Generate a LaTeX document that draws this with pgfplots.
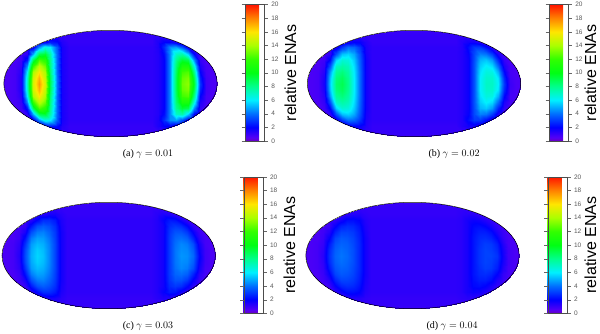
\documentclass[border=0pt]{standalone}
\usepackage{fontspec}
\setmainfont{Liberation Serif}
\newfontfamily\hv{Liberation Sans}
\usepackage{pgfplots}
\usepackage{pgfplotstable}
\pgfplotsset{compat=1.18}

\pgfplotsset{
  colormap={ena}{
    rgb255(0cm)=(105,0,190); rgb255(0.5cm)=(85,0,245); rgb255(2cm)=(0,0,255); rgb255(4cm)=(0,110,255);
    rgb255(6cm)=(0,240,255); rgb255(8cm)=(0,255,140); rgb255(10cm)=(0,255,20);
    rgb255(12cm)=(50,255,0); rgb255(14cm)=(170,255,0); rgb255(16cm)=(255,230,0);
    rgb255(18cm)=(255,130,0); rgb255(20cm)=(255,20,0)
  },
}

% relative ENA values, one line per row of the map (y = -54 ... 54 in steps of 6),
% columns x = -108 ... -42 and 42 ... 108; the middle of the map is flat
\pgfplotstableread[row sep=\\,header=false]{
0.7\\0.7\\0.7\\0.7\\0.7\\0.7\\0.7\\0.8\\0.9\\1\\1\\1\\1\\1\\0.9\\0.8\\0.7\\0.7\\0.7\\0.7\\0.7\\0.7\\0.7\\0.7\\
0.7\\0.7\\0.7\\0.7\\0.7\\0.7\\0.8\\0.9\\1\\1.1\\1.1\\1.1\\1.1\\1.1\\1\\0.9\\0.8\\0.7\\0.7\\0.7\\0.7\\0.7\\0.7\\0.7\\
0.7\\0.7\\0.7\\0.7\\0.7\\0.9\\1.2\\1.8\\2.5\\2.2\\1.4\\1.1\\1.1\\1.5\\2\\2\\1.5\\1\\0.8\\0.7\\0.7\\0.7\\0.7\\0.7\\
0.7\\0.7\\0.7\\0.7\\0.9\\1.6\\4.5\\6.5\\6\\3.6\\1.6\\1.2\\1.2\\1.5\\2.8\\4.5\\4.8\\3.5\\1.6\\0.9\\0.7\\0.7\\0.7\\0.7\\
0.7\\0.7\\0.7\\0.8\\1.2\\5\\9\\9.5\\7.5\\3.8\\1.6\\1.2\\1.2\\1.4\\2.2\\4.5\\7\\7.5\\5.5\\2\\0.9\\0.7\\0.7\\0.7\\
0.7\\0.7\\0.7\\0.9\\2.5\\9\\12.5\\11.5\\8\\3.8\\1.6\\1.2\\1.2\\1.4\\2\\4.5\\8\\9.5\\9\\4.5\\1.1\\0.7\\0.7\\0.7\\
0.7\\0.7\\0.8\\1.1\\4.5\\12\\14.5\\13\\8.2\\3.8\\1.6\\1.2\\1.2\\1.4\\2\\4.5\\8.5\\11\\11\\6.5\\1.5\\0.8\\0.7\\0.7\\
0.7\\0.7\\0.8\\1.3\\6\\14\\16\\14\\8.5\\3.8\\1.6\\1.2\\1.2\\1.4\\2\\4.5\\8.8\\12.2\\12.5\\8\\2\\0.8\\0.7\\0.7\\
0.7\\0.7\\0.8\\1.5\\6.8\\14.8\\17\\14.5\\9\\4\\1.6\\1.2\\1.2\\1.4\\2\\4.5\\9\\12.8\\13.2\\9\\2.6\\0.9\\0.7\\0.7\\
0.7\\0.7\\0.8\\1.5\\7\\15\\17.5\\15\\9\\4\\1.6\\1.2\\1.2\\1.4\\2\\4.5\\9\\13\\13.5\\9.5\\3\\0.9\\0.7\\0.7\\
0.7\\0.7\\0.8\\1.5\\6.8\\14.8\\17\\14.5\\9\\4\\1.6\\1.2\\1.2\\1.4\\2\\4.5\\9\\12.8\\13.2\\9\\2.6\\0.9\\0.7\\0.7\\
0.7\\0.7\\0.8\\1.3\\6\\14\\16\\14\\8.5\\3.8\\1.6\\1.2\\1.2\\1.4\\2\\4.5\\8.8\\12.2\\12.5\\8\\2\\0.8\\0.7\\0.7\\
0.7\\0.7\\0.8\\1.1\\4.5\\12\\14.5\\13\\8.2\\3.8\\1.6\\1.2\\1.2\\1.4\\2\\4.5\\8.5\\11\\11\\6.5\\1.5\\0.8\\0.7\\0.7\\
0.7\\0.7\\0.7\\0.9\\2.5\\9\\12.5\\11.5\\8\\3.8\\1.6\\1.2\\1.2\\1.4\\2\\4.5\\8\\9.5\\9\\4.5\\1.1\\0.7\\0.7\\0.7\\
0.7\\0.7\\0.7\\0.8\\1.2\\5\\9\\9.5\\7.5\\3.8\\1.6\\1.2\\1.2\\1.4\\2.2\\4.5\\7\\7.5\\5.5\\2\\0.9\\0.7\\0.7\\0.7\\
0.7\\0.7\\0.7\\0.7\\0.9\\1.6\\4.5\\6.5\\6\\3.6\\1.6\\1.2\\1.2\\1.5\\2.8\\4.5\\4.8\\3.5\\1.6\\0.9\\0.7\\0.7\\0.7\\0.7\\
0.7\\0.7\\0.7\\0.7\\0.7\\0.9\\1.2\\1.8\\2.5\\2.2\\1.4\\1.1\\1.1\\1.5\\2\\2\\1.5\\1\\0.8\\0.7\\0.7\\0.7\\0.7\\0.7\\
0.7\\0.7\\0.7\\0.7\\0.7\\0.7\\0.8\\0.9\\1\\1.1\\1.1\\1.1\\1.1\\1.1\\1\\0.9\\0.8\\0.7\\0.7\\0.7\\0.7\\0.7\\0.7\\0.7\\
0.7\\0.7\\0.7\\0.7\\0.7\\0.7\\0.7\\0.8\\0.9\\1\\1\\1\\1\\1\\0.9\\0.8\\0.7\\0.7\\0.7\\0.7\\0.7\\0.7\\0.7\\0.7\\
}\mapa

\pgfplotstableread[row sep=\\,header=false]{
0.7\\0.7\\0.7\\0.7\\0.7\\0.7\\0.7\\0.8\\0.9\\1\\1\\1\\1\\1\\0.9\\0.8\\0.7\\0.7\\0.7\\0.7\\0.7\\0.7\\0.7\\0.7\\
0.7\\0.7\\0.7\\0.7\\0.7\\0.7\\0.8\\0.9\\1\\1.1\\1.1\\1.1\\1.1\\1.1\\1\\0.9\\0.8\\0.7\\0.7\\0.7\\0.7\\0.7\\0.7\\0.7\\
0.7\\0.7\\0.7\\0.7\\0.7\\0.9\\1.2\\1.6\\2\\1.9\\1.4\\1.1\\1.1\\1.4\\1.7\\1.7\\1.3\\1\\0.8\\0.7\\0.7\\0.7\\0.7\\0.7\\
0.7\\0.7\\0.7\\0.7\\0.9\\1.5\\3\\4\\3.8\\2.9\\1.5\\1.2\\1.2\\1.4\\2.2\\3\\3\\2.2\\1.2\\0.9\\0.7\\0.7\\0.7\\0.7\\
0.7\\0.7\\0.7\\0.8\\1.2\\3.5\\5.3\\5.6\\4.9\\3.4\\1.6\\1.2\\1.2\\1.4\\1.9\\3.3\\4.3\\4.1\\3.1\\1.5\\0.9\\0.7\\0.7\\0.7\\
0.7\\0.7\\0.7\\0.9\\2.2\\5.6\\6.8\\6.6\\5.4\\3.6\\1.7\\1.2\\1.2\\1.4\\1.8\\3.4\\5.1\\5.4\\4.7\\2.7\\1.1\\0.7\\0.7\\0.7\\
0.7\\0.7\\0.7\\1.1\\3.5\\7\\7.6\\7.2\\5.7\\3.7\\1.7\\1.2\\1.2\\1.4\\1.8\\3.5\\5.5\\6.1\\5.7\\3.9\\1.5\\0.8\\0.7\\0.7\\
0.7\\0.7\\0.8\\1.3\\4.7\\7.8\\8.3\\7.6\\5.9\\3.8\\1.7\\1.2\\1.2\\1.4\\1.8\\3.5\\5.8\\6.6\\6.5\\5\\2.1\\0.8\\0.7\\0.7\\
0.7\\0.7\\0.8\\1.5\\5.3\\8.3\\8.8\\7.9\\6\\3.8\\1.7\\1.2\\1.2\\1.4\\1.8\\3.5\\6\\6.9\\6.9\\5.8\\2.7\\0.9\\0.7\\0.7\\
0.7\\0.7\\0.8\\1.6\\5.5\\8.5\\9\\8\\6\\3.8\\1.7\\1.2\\1.2\\1.4\\1.8\\3.5\\6\\7\\7\\6\\3\\1\\0.7\\0.7\\
0.7\\0.7\\0.8\\1.5\\5.3\\8.3\\8.8\\7.9\\6\\3.8\\1.7\\1.2\\1.2\\1.4\\1.8\\3.5\\6\\6.9\\6.9\\5.8\\2.7\\0.9\\0.7\\0.7\\
0.7\\0.7\\0.8\\1.3\\4.7\\7.8\\8.3\\7.6\\5.9\\3.8\\1.7\\1.2\\1.2\\1.4\\1.8\\3.5\\5.8\\6.6\\6.5\\5\\2.1\\0.8\\0.7\\0.7\\
0.7\\0.7\\0.7\\1.1\\3.5\\7\\7.6\\7.2\\5.7\\3.7\\1.7\\1.2\\1.2\\1.4\\1.8\\3.5\\5.5\\6.1\\5.7\\3.9\\1.5\\0.8\\0.7\\0.7\\
0.7\\0.7\\0.7\\0.9\\2.2\\5.6\\6.8\\6.6\\5.4\\3.6\\1.7\\1.2\\1.2\\1.4\\1.8\\3.4\\5.1\\5.4\\4.7\\2.7\\1.1\\0.7\\0.7\\0.7\\
0.7\\0.7\\0.7\\0.8\\1.2\\3.5\\5.3\\5.6\\4.9\\3.4\\1.6\\1.2\\1.2\\1.4\\1.9\\3.3\\4.3\\4.1\\3.1\\1.5\\0.9\\0.7\\0.7\\0.7\\
0.7\\0.7\\0.7\\0.7\\0.9\\1.5\\3\\4\\3.8\\2.9\\1.5\\1.2\\1.2\\1.4\\2.2\\3\\3\\2.2\\1.2\\0.9\\0.7\\0.7\\0.7\\0.7\\
0.7\\0.7\\0.7\\0.7\\0.7\\0.9\\1.2\\1.6\\2\\1.9\\1.4\\1.1\\1.1\\1.4\\1.7\\1.7\\1.3\\1\\0.8\\0.7\\0.7\\0.7\\0.7\\0.7\\
0.7\\0.7\\0.7\\0.7\\0.7\\0.7\\0.8\\0.9\\1\\1.1\\1.1\\1.1\\1.1\\1.1\\1\\0.9\\0.8\\0.7\\0.7\\0.7\\0.7\\0.7\\0.7\\0.7\\
0.7\\0.7\\0.7\\0.7\\0.7\\0.7\\0.7\\0.8\\0.9\\1\\1\\1\\1\\1\\0.9\\0.8\\0.7\\0.7\\0.7\\0.7\\0.7\\0.7\\0.7\\0.7\\
}\mapb

\pgfplotstableread[row sep=\\,header=false]{
0.7\\0.7\\0.7\\0.7\\0.7\\0.7\\0.7\\0.8\\0.9\\1\\1\\1\\1\\1\\0.9\\0.8\\0.7\\0.7\\0.7\\0.7\\0.7\\0.7\\0.7\\0.7\\
0.7\\0.7\\0.7\\0.7\\0.7\\0.7\\0.8\\0.9\\1\\1.1\\1.1\\1.1\\1.1\\1.1\\1\\0.9\\0.8\\0.7\\0.7\\0.7\\0.7\\0.7\\0.7\\0.7\\
0.7\\0.7\\0.7\\0.7\\0.7\\0.9\\1.1\\1.3\\1.6\\1.6\\1.3\\1.1\\1.1\\1.3\\1.5\\1.4\\1.1\\0.9\\0.8\\0.7\\0.7\\0.7\\0.7\\0.7\\
0.7\\0.7\\0.7\\0.7\\0.9\\1.3\\2.1\\2.8\\2.8\\2.4\\1.5\\1.2\\1.2\\1.4\\1.9\\2.4\\2.3\\1.7\\1.1\\0.9\\0.7\\0.7\\0.7\\0.7\\
0.7\\0.7\\0.7\\0.8\\1.1\\2.4\\3.4\\3.7\\3.4\\2.8\\1.6\\1.2\\1.2\\1.4\\1.7\\2.7\\3\\2.8\\2.1\\1.2\\0.9\\0.7\\0.7\\0.7\\
0.7\\0.7\\0.7\\0.9\\1.6\\3.4\\4.2\\4.3\\3.8\\3\\1.7\\1.2\\1.2\\1.4\\1.7\\2.9\\3.5\\3.5\\3\\1.9\\1\\0.7\\0.7\\0.7\\
0.7\\0.7\\0.7\\1\\2.3\\4.2\\4.8\\4.7\\4.1\\3.1\\1.7\\1.2\\1.2\\1.4\\1.7\\3\\3.8\\4\\3.7\\2.6\\1.3\\0.8\\0.7\\0.7\\
0.7\\0.7\\0.8\\1.2\\2.9\\4.7\\5.2\\5\\4.3\\3.2\\1.7\\1.2\\1.2\\1.4\\1.7\\3\\4\\4.4\\4.2\\3.4\\1.7\\0.8\\0.7\\0.7\\
0.7\\0.7\\0.8\\1.3\\3.3\\4.9\\5.5\\5.2\\4.4\\3.2\\1.7\\1.2\\1.2\\1.4\\1.7\\3\\4.1\\4.5\\4.4\\3.7\\1.9\\0.9\\0.7\\0.7\\
0.7\\0.7\\0.8\\1.4\\3.4\\5\\5.6\\5.3\\4.4\\3.2\\1.7\\1.2\\1.2\\1.4\\1.7\\3\\4.1\\4.6\\4.5\\3.9\\2.1\\0.9\\0.7\\0.7\\
0.7\\0.7\\0.8\\1.3\\3.3\\4.9\\5.5\\5.2\\4.4\\3.2\\1.7\\1.2\\1.2\\1.4\\1.7\\3\\4.1\\4.5\\4.4\\3.7\\1.9\\0.9\\0.7\\0.7\\
0.7\\0.7\\0.8\\1.2\\2.9\\4.7\\5.2\\5\\4.3\\3.2\\1.7\\1.2\\1.2\\1.4\\1.7\\3\\4\\4.4\\4.2\\3.4\\1.7\\0.8\\0.7\\0.7\\
0.7\\0.7\\0.7\\1\\2.3\\4.2\\4.8\\4.7\\4.1\\3.1\\1.7\\1.2\\1.2\\1.4\\1.7\\3\\3.8\\4\\3.7\\2.6\\1.3\\0.8\\0.7\\0.7\\
0.7\\0.7\\0.7\\0.9\\1.6\\3.4\\4.2\\4.3\\3.8\\3\\1.7\\1.2\\1.2\\1.4\\1.7\\2.9\\3.5\\3.5\\3\\1.9\\1\\0.7\\0.7\\0.7\\
0.7\\0.7\\0.7\\0.8\\1.1\\2.4\\3.4\\3.7\\3.4\\2.8\\1.6\\1.2\\1.2\\1.4\\1.7\\2.7\\3\\2.8\\2.1\\1.2\\0.9\\0.7\\0.7\\0.7\\
0.7\\0.7\\0.7\\0.7\\0.9\\1.3\\2.1\\2.8\\2.8\\2.4\\1.5\\1.2\\1.2\\1.4\\1.9\\2.4\\2.3\\1.7\\1.1\\0.9\\0.7\\0.7\\0.7\\0.7\\
0.7\\0.7\\0.7\\0.7\\0.7\\0.9\\1.1\\1.3\\1.6\\1.6\\1.3\\1.1\\1.1\\1.3\\1.5\\1.4\\1.1\\0.9\\0.8\\0.7\\0.7\\0.7\\0.7\\0.7\\
0.7\\0.7\\0.7\\0.7\\0.7\\0.7\\0.8\\0.9\\1\\1.1\\1.1\\1.1\\1.1\\1.1\\1\\0.9\\0.8\\0.7\\0.7\\0.7\\0.7\\0.7\\0.7\\0.7\\
0.7\\0.7\\0.7\\0.7\\0.7\\0.7\\0.7\\0.8\\0.9\\1\\1\\1\\1\\1\\0.9\\0.8\\0.7\\0.7\\0.7\\0.7\\0.7\\0.7\\0.7\\0.7\\
}\mapc

\pgfplotstableread[row sep=\\,header=false]{
0.7\\0.7\\0.7\\0.7\\0.7\\0.7\\0.7\\0.8\\0.9\\1\\1\\1\\1\\1\\0.9\\0.8\\0.7\\0.7\\0.7\\0.7\\0.7\\0.7\\0.7\\0.7\\
0.7\\0.7\\0.7\\0.7\\0.7\\0.7\\0.8\\0.9\\1\\1.1\\1.1\\1.1\\1.1\\1.1\\1\\0.9\\0.8\\0.7\\0.7\\0.7\\0.7\\0.7\\0.7\\0.7\\
0.7\\0.7\\0.7\\0.7\\0.7\\0.9\\1\\1.2\\1.4\\1.4\\1.2\\1.1\\1.1\\1.2\\1.3\\1.3\\1.1\\0.9\\0.8\\0.7\\0.7\\0.7\\0.7\\0.7\\
0.7\\0.7\\0.7\\0.7\\0.9\\1.2\\1.7\\2.2\\2.2\\2\\1.4\\1.2\\1.2\\1.3\\1.6\\1.8\\1.7\\1.4\\1.1\\0.9\\0.7\\0.7\\0.7\\0.7\\
0.7\\0.7\\0.7\\0.8\\1\\1.9\\2.6\\2.8\\2.7\\2.3\\1.5\\1.2\\1.2\\1.3\\1.6\\2.1\\2.2\\2\\1.6\\1.1\\0.9\\0.7\\0.7\\0.7\\
0.7\\0.7\\0.7\\0.9\\1.4\\2.6\\3.2\\3.2\\3\\2.5\\1.6\\1.2\\1.2\\1.3\\1.6\\2.2\\2.5\\2.5\\2.2\\1.5\\1\\0.7\\0.7\\0.7\\
0.7\\0.7\\0.7\\1\\1.9\\3.2\\3.6\\3.5\\3.2\\2.6\\1.7\\1.2\\1.2\\1.3\\1.6\\2.3\\2.7\\2.8\\2.6\\2\\1.1\\0.8\\0.7\\0.7\\
0.7\\0.7\\0.8\\1.1\\2.4\\3.5\\3.8\\3.7\\3.3\\2.7\\1.7\\1.2\\1.2\\1.3\\1.6\\2.3\\2.8\\3.1\\3\\2.5\\1.4\\0.8\\0.7\\0.7\\
0.7\\0.7\\0.8\\1.2\\2.7\\3.7\\4\\3.8\\3.4\\2.7\\1.7\\1.2\\1.2\\1.3\\1.6\\2.3\\2.9\\3.2\\3.1\\2.7\\1.6\\0.9\\0.7\\0.7\\
0.7\\0.7\\0.8\\1.3\\2.8\\3.8\\4.1\\3.9\\3.4\\2.7\\1.7\\1.2\\1.2\\1.3\\1.6\\2.3\\2.9\\3.2\\3.2\\2.9\\1.7\\0.9\\0.7\\0.7\\
0.7\\0.7\\0.8\\1.2\\2.7\\3.7\\4\\3.8\\3.4\\2.7\\1.7\\1.2\\1.2\\1.3\\1.6\\2.3\\2.9\\3.2\\3.1\\2.7\\1.6\\0.9\\0.7\\0.7\\
0.7\\0.7\\0.8\\1.1\\2.4\\3.5\\3.8\\3.7\\3.3\\2.7\\1.7\\1.2\\1.2\\1.3\\1.6\\2.3\\2.8\\3.1\\3\\2.5\\1.4\\0.8\\0.7\\0.7\\
0.7\\0.7\\0.7\\1\\1.9\\3.2\\3.6\\3.5\\3.2\\2.6\\1.7\\1.2\\1.2\\1.3\\1.6\\2.3\\2.7\\2.8\\2.6\\2\\1.1\\0.8\\0.7\\0.7\\
0.7\\0.7\\0.7\\0.9\\1.4\\2.6\\3.2\\3.2\\3\\2.5\\1.6\\1.2\\1.2\\1.3\\1.6\\2.2\\2.5\\2.5\\2.2\\1.5\\1\\0.7\\0.7\\0.7\\
0.7\\0.7\\0.7\\0.8\\1\\1.9\\2.6\\2.8\\2.7\\2.3\\1.5\\1.2\\1.2\\1.3\\1.6\\2.1\\2.2\\2\\1.6\\1.1\\0.9\\0.7\\0.7\\0.7\\
0.7\\0.7\\0.7\\0.7\\0.9\\1.2\\1.7\\2.2\\2.2\\2\\1.4\\1.2\\1.2\\1.3\\1.6\\1.8\\1.7\\1.4\\1.1\\0.9\\0.7\\0.7\\0.7\\0.7\\
0.7\\0.7\\0.7\\0.7\\0.7\\0.9\\1\\1.2\\1.4\\1.4\\1.2\\1.1\\1.1\\1.2\\1.3\\1.3\\1.1\\0.9\\0.8\\0.7\\0.7\\0.7\\0.7\\0.7\\
0.7\\0.7\\0.7\\0.7\\0.7\\0.7\\0.8\\0.9\\1\\1.1\\1.1\\1.1\\1.1\\1.1\\1\\0.9\\0.8\\0.7\\0.7\\0.7\\0.7\\0.7\\0.7\\0.7\\
0.7\\0.7\\0.7\\0.7\\0.7\\0.7\\0.7\\0.8\\0.9\\1\\1\\1\\1\\1\\0.9\\0.8\\0.7\\0.7\\0.7\\0.7\\0.7\\0.7\\0.7\\0.7\\
}\mapd

% #1 table, #2 #3 map centre, #4 #5 colour bar corner, #6 label baseline, #7 #8 caption position, #9 caption
\newcommand{\panel}[9]{
  \begin{scope}
    \clip (#2pt,#3pt) ellipse (106.7pt and 53.2pt);
    \begin{axis}[
      at={(#2pt,#3pt)}, anchor=center,
      scale only axis, width=216pt, height=108pt,
      xmin=-108, xmax=108, ymin=-54, ymax=54,
      view={0}{90}, hide axis,
      colormap name=ena, point meta min=0, point meta max=20,
    ]
      \addplot3[surf, shader=interp, mesh/cols=24, point meta=z]
        table[
          x index=0, y index=0, z index=0,
          x expr={ifthenelse(mod(\coordindex,24)<12,-108+6*mod(\coordindex,24),-30+6*mod(\coordindex,24))},
          y expr={-54+6*floor(\coordindex/24)},
        ] {#1};
    \end{axis}
  \end{scope}
  \draw[black, line width=0.5pt] (#2pt,#3pt) ellipse (106.7pt and 53.2pt);
  \begin{axis}[
    at={(#4pt,#5pt)}, anchor=south west,
    scale only axis, width=19.3pt, height=136.5pt,
    xmin=0, xmax=1, ymin=0, ymax=1, hide axis,
    colormap name=ena, point meta min=0, point meta max=20,
    colorbar,
    colorbar style={
      at={(0,0)}, anchor=south west,
      width=19.3pt, height=136.5pt,
      ytick={0,2,...,20},
      tick align=outside,
      major tick length=3.5pt,
      ytick style={draw=black!60, line width=0.3pt},
      axis line style={draw=black!70, line width=0.4pt},
      yticklabel style={font=\hv\fontsize{6.5}{7}\selectfont, text=black!65, /pgf/number format/assume math mode=true},
    },
  ]
  \end{axis}
  \node[rotate=90, anchor=base, font=\hv\fontsize{16}{18}\selectfont, inner sep=0pt] at (#6pt,#5pt+68.2pt) {relative ENAs};
  \node[font=\fontsize{10}{11}\selectfont, inner sep=0pt] at (#7pt,#8pt) {#9};
}

\begin{document}
\begin{tikzpicture}
  \path[use as bounding box] (0pt,0pt) rectangle (600pt,333pt);
  \panel{\mapa}{110.5}{249.5}{245}{192}{296}{148}{178.5}{(a) $\gamma=0.01$}
  \panel{\mapb}{414}{249.5}{549}{192}{596}{454}{178.5}{(b) $\gamma=0.02$}
  \panel{\mapc}{108.7}{77.5}{243.7}{19.7}{295}{148}{6.5}{(c) $\gamma=0.03$}
  \panel{\mapd}{412.5}{77.5}{547.7}{19.7}{596}{452}{6.5}{(d) $\gamma=0.04$}
\end{tikzpicture}
\end{document}
